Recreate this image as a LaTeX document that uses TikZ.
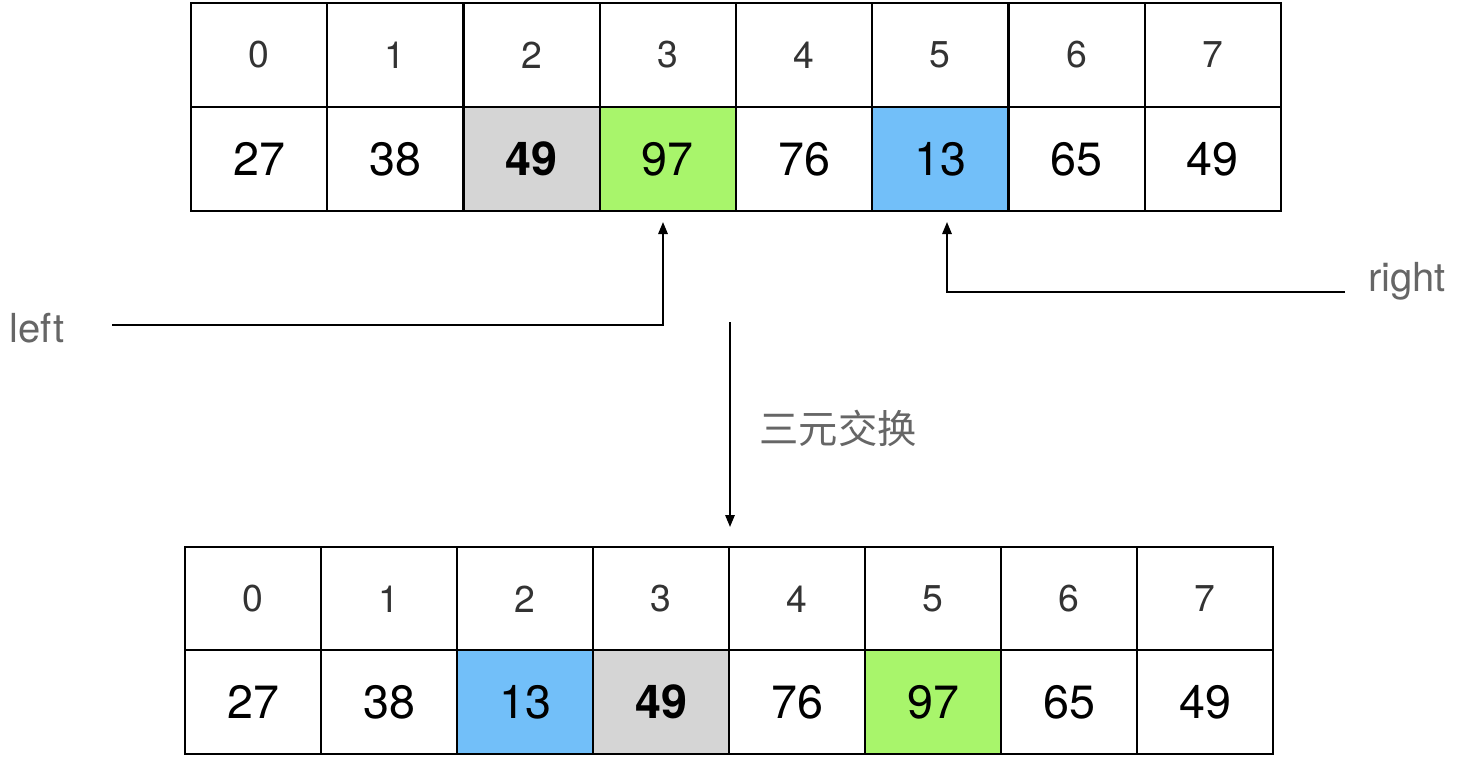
\documentclass[tikz,border=0pt]{standalone}
\usepackage{fontspec}
\setmainfont{TeX Gyre Heros}
\newfontfamily\cjkfont{Noto Sans CJK SC}
\usetikzlibrary{positioning,arrows.meta}
\definecolor{hlgray}{HTML}{D5D5D5}
\definecolor{hlgreen}{HTML}{A8F56B}
\definecolor{hlblue}{HTML}{72BFF9}
\tikzstyle{cell} = [draw, line width=1.5pt, minimum width=102pt, minimum height=78pt, inner sep=0pt, outer sep=0pt]
\tikzstyle{idx} = [cell, font=\fontsize{28}{28}\selectfont, text=black!80]
\tikzstyle{val} = [cell, font=\fontsize{35}{35}\selectfont]
\tikzstyle{lbl} = [text=black!60, font=\fontsize{30}{30}\selectfont]
\tikzstyle{ptr} = [line width=1.5pt, -{Triangle[length=9pt,width=7pt]}]

\begin{document}
\begin{tikzpicture}[x=0.75pt,y=-0.75pt]
        \useasboundingbox (0,0) rectangle (1460,760);

        % array before the swap
        \foreach \v/\f [count=\i from 0] in {27/white,38/white,{\textbf{49}}/hlgray,97/hlgreen,76/white,13/hlblue,65/white,49/white} {
            \node[idx] (a\i) at ({259+136.25*\i},55) {\i};
            \node[val, fill=\f] (av\i) at ({259+136.25*\i},159) {\v};
        }

        % array after the swap
        \foreach \v/\f [count=\i from 0] in {27/white,38/white,13/hlblue,{\textbf{49}}/hlgray,76/white,97/hlgreen,65/white,49/white} {
            \node[idx] (b\i) at ({253+136*\i},599) {\i};
            \node[val, fill=\f] (bv\i) at ({253+136*\i},702) {\v};
        }

        % pointers
        \node[lbl] (leftlbl) at (37,328) {left};
        \node[lbl] (rightlbl) at (1407,281) {right};
        \coordinate (lefttail) at (112,325);
        \coordinate (lefthead) at (663,222);
        \coordinate (righttail) at (1345,292);
        \coordinate (righthead) at (947,222);
        \draw[ptr] (lefttail) -| (lefthead);
        \draw[ptr] (righttail) -| (righthead);

        % swap step
        \coordinate (swaptail) at (730,322);
        \coordinate (swaphead) at (730,527);
        \draw[ptr] (swaptail) -- (swaphead);
        \node[lbl, font=\cjkfont\fontsize{29.5}{29.5}\selectfont] (swaplbl) at (838,428) {三元交换};
    \end{tikzpicture}
\end{document}
